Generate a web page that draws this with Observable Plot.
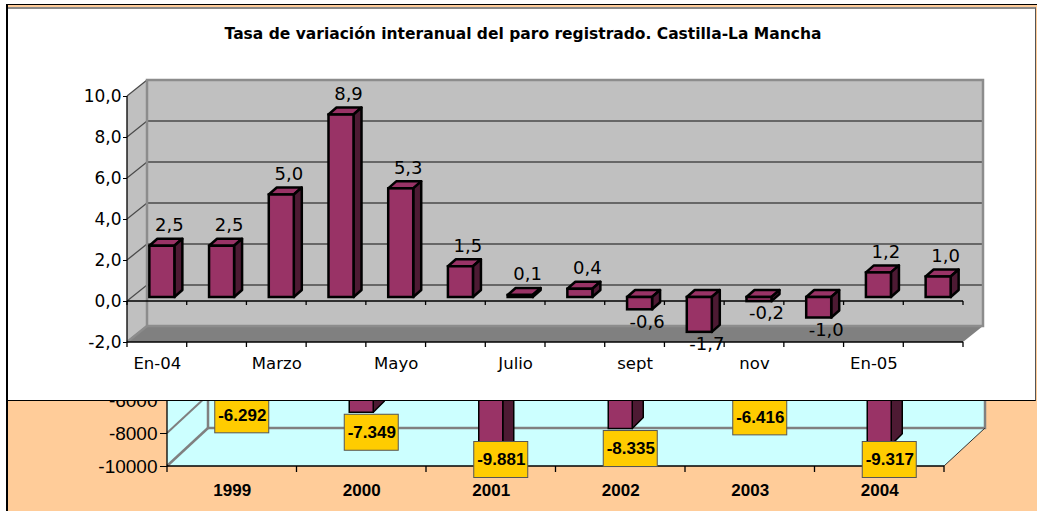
<!DOCTYPE html>
<html><head><meta charset="utf-8">
<script src="https://cdn.jsdelivr.net/npm/d3@7"></script>
<script src="https://cdn.jsdelivr.net/npm/@observablehq/plot@0.6"></script>
<style>
html,body{margin:0;padding:0;background:#fff;}
#page{position:relative;width:1037px;height:511px;overflow:hidden;}
#lowerFrame{position:absolute;left:6px;top:4px;right:0;bottom:0;background:#FFCC99;border-top:1.5px solid #000;border-left:2px solid #000;}
#lower{position:absolute;left:0;top:0;}
#upperBox{position:absolute;left:8px;top:7px;width:1027px;height:391px;background:#fff;border-top:2px solid #8a8a8a;border-right:1px solid #555;border-bottom:1.5px solid #000;}
#upper{position:absolute;left:0;top:0;}
#title{position:absolute;left:0;width:1046px;top:25px;text-align:center;font:bold 15.5px "DejaVu Sans";line-height:18px;color:#000;}
</style>
</head><body>
<div id="page">
  <div id="lowerFrame"></div>
  <div id="lower"></div>
  <div id="upperBox"></div>
  <div id="upper"></div>
  <div id="title"></div>
</div>
<script>
// ---------- data ----------
const titulo = "Tasa de variación interanual del paro registrado. Castilla-La Mancha";
const meses = ["En-04","feb","Marzo","abr","Mayo","jun","Julio","ago","sept","oct","nov","dic","En-05","feb-05"];
const mesesRotulados = ["En-04","Marzo","Mayo","Julio","sept","nov","En-05"];
const tasa = [2.5, 2.5, 5.0, 8.9, 5.3, 1.5, 0.1, 0.4, -0.6, -1.7, -0.2, -1.0, 1.2, 1.0];
const ticksTasa = [-2, 0, 2, 4, 6, 8, 10];

const anios = ["1999","2000","2001","2002","2003","2004"];
const variacion = [-6292, -7349, -9881, -8335, -6416, -9317];
const ticksVar = [-10000, -8000, -6000];

// ---------- helpers ----------
const es = d3.formatLocale({decimal: ",", thousands: ".", grouping: [3], currency: ["", "€"], minus: "-"});
const f1 = es.format(".1f");
const fmil = es.format(",d");

function poly(g, pts, fill, stroke, sw) {
  g.append("path")
    .attr("d", "M" + pts.map(p => p.join(",")).join("L") + "Z")
    .attr("fill", fill)
    .attr("stroke", stroke || "none")
    .attr("stroke-width", sw || 0)
    .attr("stroke-linejoin", "round");
}
function seg(g, x1, y1, x2, y2, stroke, sw) {
  g.append("line").attr("x1", x1).attr("y1", y1).attr("x2", x2).attr("y2", y2)
    .attr("stroke", stroke).attr("stroke-width", sw);
}

// 3D walls (back wall, left wall, floor) computed from the scales
function paredes(o) {
  return (index, scales) => {
    const {x, y} = scales;
    const g = d3.create("svg:g");
    const x0 = x(o.xd[0]), x1 = x(o.xd[1]), yT = y(o.yd[1]), yB = y(o.yd[0]);
    const dx = o.dx, dy = o.dy;
    g.append("rect").attr("x", x0 + dx).attr("y", yT + dy).attr("width", x1 - x0).attr("height", yB - yT)
      .attr("fill", o.wall);
    poly(g, [[x0, yT], [x0 + dx, yT + dy], [x0 + dx, yB + dy], [x0, yB]], o.wall);
    poly(g, [[x0, yB], [x0 + dx, yB + dy], [x1 + dx, yB + dy], [x1, yB]], o.floor);
    for (const t of o.grid) {
      seg(g, x0 + dx, y(t) + dy, x1 + dx, y(t) + dy, o.gridColor, o.gridWidth);
      seg(g, x0, y(t), x0 + dx, y(t) + dy, o.gridColor, o.gridWidth);
    }
    g.append("rect").attr("x", x0 + dx).attr("y", yT + dy).attr("width", x1 - x0).attr("height", yB - yT)
      .attr("fill", "none").attr("stroke", o.edge).attr("stroke-width", o.edgeWidth);
    seg(g, x0, yB, x0 + dx, yB + dy, o.edge, o.edgeWidth);
    if (o.rightDiag) seg(g, x1, yB, x1 + dx, yB + dy, o.rightDiag, 1);
    return g.node();
  };
}

// axis lines + category boundary ticks
function ejes(o) {
  return (index, scales) => {
    const {x, y} = scales;
    const g = d3.create("svg:g");
    const x0 = x(o.xd[0]), x1 = x(o.xd[1]);
    seg(g, x0, y(o.yd[0]), x0, y(o.yd[1]), "#000", 1.3);
    for (const base of o.bases) {
      seg(g, x0, y(base.v), x1, y(base.v), "#000", 1.3);
      for (let b = o.xd[0]; b <= o.xd[1] + 1e-9; b += 1) seg(g, x(b), y(base.v), x(b), y(base.v) + base.len, "#000", 1.3);
    }
    return g.node();
  };
}

// side + top faces of the 3D bars
function caras(data, o) {
  return (index, scales) => {
    const {x, y} = scales;
    const g = d3.create("svg:g");
    for (const d of data) {
      const xl = x(d.i - 0.5) + o.inset + o.dx, xr = x(d.i + 0.5) - o.inset + o.dx;
      const ya = Math.min(y(d.v), y(0)) + o.dy, yb = Math.max(y(d.v), y(0)) + o.dy;
      poly(g, [[xl, ya], [xl + o.ddx, ya + o.ddy], [xr + o.ddx, ya + o.ddy], [xr, ya]], o.top, "#000", o.sw);
      poly(g, [[xr, ya], [xr + o.ddx, ya + o.ddy], [xr + o.ddx, yb + o.ddy], [xr, yb]], o.side, "#000", o.sw);
    }
    return g.node();
  };
}

// yellow label boxes
function cajas(data, o) {
  return (index, scales) => {
    const {x, y} = scales;
    const g = d3.create("svg:g");
    for (const d of data) {
      const cx = x(d.i) + o.dx, cy = y(o.yv(d)) + o.dy;
      g.append("rect").attr("x", cx - o.w / 2).attr("y", cy - o.h / 2).attr("width", o.w).attr("height", o.h)
        .attr("fill", o.fill).attr("stroke", o.stroke).attr("stroke-width", 1);
    }
    return g.node();
  };
}

// ---------- upper chart ----------
const dataTasa = meses.map((m, i) => ({i, m, v: tasa[i]}));
const ticksMes = mesesRotulados.map(m => meses.indexOf(m));
const xdU = [-0.5, meses.length - 0.5];
const ydU = [ticksTasa[0], ticksTasa[ticksTasa.length - 1]];

const upper = Plot.plot({
  width: 1037, height: 401,
  marginLeft: 127, marginRight: 74, marginTop: 96, marginBottom: 59,
  style: {background: "transparent", fontFamily: "DejaVu Sans", fontSize: "17px", color: "#000", overflow: "visible"},
  x: {type: "linear", domain: xdU, ticks: ticksMes, tickFormat: i => meses[i], tickSize: 0, tickPadding: 15, label: null},
  y: {domain: ydU, ticks: ticksTasa, tickFormat: f1, tickSize: 4, tickPadding: 2, label: null},
  marks: [
    paredes({xd: xdU, yd: ydU, dx: 20, dy: -16, wall: "#C0C0C0", floor: "#808080", grid: ticksTasa,
             gridColor: "#4a4a4a", gridWidth: 1.3, edge: "#8c8c8c", edgeWidth: 2.5}),
    ejes({xd: xdU, yd: ydU, bases: [{v: ydU[0], len: 5}, {v: 0, len: 4}]}),
    caras(dataTasa, {inset: 17.35, dx: 5, dy: -4, ddx: 8, ddy: -7, top: "#993366", side: "#4D1A33", sw: 2.5}),
    Plot.rect(dataTasa, {x1: d => d.i - 0.5, x2: d => d.i + 0.5, y1: 0, y2: "v", insetLeft: 17.35, insetRight: 17.35,
      dx: 5, dy: -4, fill: "#993366", stroke: "#000", strokeWidth: 2.5}),
    Plot.text(dataTasa.filter(d => d.v >= 0), {x: "i", y: "v", text: d => f1(d.v), dx: 12, dy: -25, fontSize: 18, fill: "#000"}),
    Plot.text(dataTasa.filter(d => d.v < 0), {x: "i", y: "v", text: d => f1(d.v), dx: 12, dy: 8, fontSize: 18, fill: "#000"})
  ]
});
d3.select(upper).selectAll('g[aria-label^="x-axis"] text').style("font-size", "16.5px");
document.getElementById("upper").appendChild(upper);
document.getElementById("title").textContent = titulo;

// ---------- lower chart ----------
const dataVar = anios.map((a, i) => ({i, a, v: variacion[i]}));
const xdL = [-0.5, anios.length - 0.5];
const ydL = [-10000, 0];
const yEtiqueta = d => Math.max(d.v, -9000);

const lower = Plot.plot({
  width: 1037, height: 511,
  marginLeft: 167, marginRight: 93, marginTop: 301, marginBottom: 45,
  style: {background: "transparent", fontFamily: "Liberation Sans", fontSize: "19px", color: "#000", overflow: "visible"},
  x: {type: "linear", domain: xdL, ticks: anios.map((a, i) => i), tickFormat: i => anios[i], tickSize: 0, tickPadding: 17, label: null},
  y: {domain: ydL, ticks: ticksVar, tickFormat: d => String(d), tickSize: 7, tickPadding: 3, label: null},
  marks: [
    paredes({xd: xdL, yd: ydL, dx: 41, dy: -38, wall: "#CCFFFF", floor: "#CCFFFF", grid: [-8000, -6000, -4000, -2000],
             gridColor: "#808080", gridWidth: 2, edge: "#808080", edgeWidth: 2.5, rightDiag: "#333"}),
    ejes({xd: xdL, yd: ydL, bases: [{v: ydL[0], len: 6}]}),
    caras(dataVar, {inset: 52.75, dx: 0, dy: -10, ddx: 11, ddy: -11, top: "#993366", side: "#4D1A33", sw: 1.5}),
    Plot.rect(dataVar, {x1: d => d.i - 0.5, x2: d => d.i + 0.5, y1: 0, y2: "v", insetLeft: 52.75, insetRight: 52.75,
      dy: -10, fill: "#993366", stroke: "#000", strokeWidth: 1.5}),
    cajas(dataVar, {dx: 10, dy: 10, w: 54, h: 36, fill: "#FFCC00", stroke: "#555", yv: yEtiqueta}),
    Plot.text(dataVar, {x: "i", y: yEtiqueta, text: d => fmil(d.v), dx: 10, dy: 10, fontSize: 17, fontWeight: "bold", fill: "#000"})
  ]
});
d3.select(lower).selectAll('g[aria-label^="x-axis"] text').style("font-size", "17px").style("font-weight", "bold");
document.getElementById("lower").appendChild(lower);
</script>
</body></html>
